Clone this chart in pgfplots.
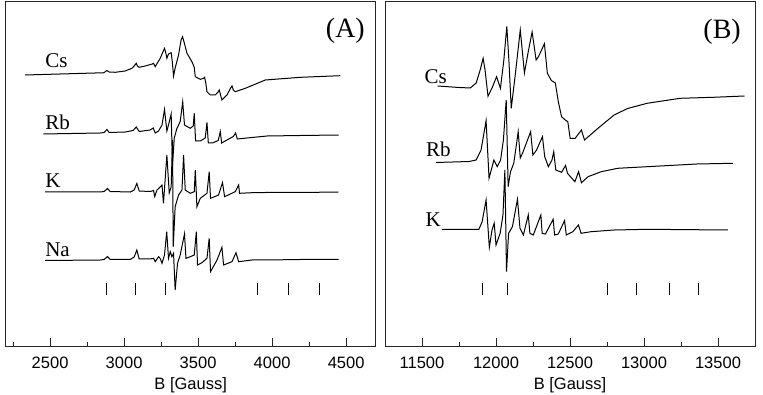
\documentclass[border=0pt]{standalone}
\usepackage{fontspec}
\setmainfont{Liberation Serif}
\setsansfont{Liberation Sans}
\usepackage{pgfplots}
\pgfplotsset{compat=1.18}

% y values are read top-down (0 = top of picture), so the axis runs reversed
\pgfplotsset{
  eprpanel/.style={
    scale only axis, width=370pt, height=344pt,
    y dir=reverse, ymin=2, ymax=346, ytick=\empty,
    axis line style={line width=1pt, black!85},
    tick align=inside, xtick pos=bottom,
    major tick length=8pt, minor tick length=4pt,
    tick style={black!85, line width=0.8pt},
    scaled x ticks=false,
    xticklabel style={font=\sffamily\fontsize{16.5}{19}\selectfont, yshift=-7pt},
    /pgf/number format/assume math mode=true,
    /pgf/number format/1000 sep={},
    xlabel={B [Gauss]},
    xlabel style={font=\sffamily\fontsize{16.5}{19}\selectfont, yshift=-2pt},
    clip=false,
  },
  trace/.style={black, line width=1pt},
  stick/.style={black, line width=0.7pt, unbounded coords=jump},
}
\tikzset{
  spec/.style={anchor=base west, inner sep=0pt, font=\fontsize{21}{24}\selectfont},
  tag/.style={anchor=center, inner sep=0pt, font=\fontsize{28}{32}\selectfont},
}

\begin{document}
\begin{tikzpicture}
\useasboundingbox (-5.7pt,-49pt) rectangle (757.3pt,346pt);

% ---------------- panel A (X band) ----------------
\begin{axis}[eprpanel, at={(0pt,0pt)},
  xmin=2200, xmax=4700,
  xtick={2500,3000,3500,4000,4500},
  minor xtick={2250,2750,3250,3750,4250},
]
% Cs
\addplot[trace] coordinates {
 (2331,75) (2804,73) (2858,73) (2870,72) (2884,70.5) (2899,72) (2940,72.3)
 (3007,71) (3053,68.3) (3068,66) (3082,63.3) (3092,66.5) (3102,67.3) (3143,66)
 (3190,64) (3199,63.3) (3210,66.7) (3244,58.3) (3265,51) (3273,48.3) (3282,53)
 (3289,58.3) (3300,54) (3318,52.7) (3326,62) (3334,76) (3345,68) (3368,55)
 (3385,40) (3395,36.7) (3405,42) (3425,53.3) (3458,61.7) (3474,67.3) (3481,76.7)
 (3515,79.3) (3535,78.5) (3544,77.3) (3552,83) (3560,91.7) (3582,95) (3616,95)
 (3635,92) (3643,90) (3650,94) (3661,100) (3695,95) (3720,88) (3729,86)
 (3738,90) (3751,91.7) (3819,88.3) (3954,80) (4191,77.3) (4462,75.7)
};
% Rb
\addplot[trace] coordinates {
 (2455,134) (2838,133) (2865,132.5) (2884,129.5) (2899,132.5) (3007,132)
 (3061,130.5) (3082,127) (3102,131.5) (3176,130) (3197,128) (3210,133)
 (3233,131) (3256,125) (3273,109.5) (3289,131) (3305,122) (3318,114)
 (3327,165) (3339,138) (3357,128.3) (3379,121.7) (3396,101.7) (3408,125)
 (3447,128.3) (3467,126) (3474,113.3) (3483,141) (3515,141) (3548,138)
 (3560,122.5) (3569,143) (3596,143) (3636,140.5) (3650,131.5) (3659,143)
 (3695,140) (3738,136.5) (3753,133) (3765,139) (3830,138) (3966,136)
 (4191,135.5) (4450,135)
};
% K
\addplot[trace] coordinates {
 (2466,192) (2838,192) (2865,191.5) (2888,188.5) (2906,191.5) (3041,192)
 (3068,190) (3086,183.5) (3102,191) (3176,191.5) (3199,190.5) (3207,196.5)
 (3222,190) (3244,187) (3256,185) (3266,203.3) (3289,155) (3305,193)
 (3318,187) (3327,140) (3332,246.7) (3345,206.7) (3368,195) (3391,190)
 (3402,155) (3413,190) (3447,193.3) (3474,191.7) (3481,170) (3492,206.7)
 (3515,198.3) (3560,193.3) (3575,171.7) (3584,198.3) (3638,195) (3665,182.7)
 (3679,196.7) (3751,191.7) (3774,185) (3780,193.3) (3864,192.7) (3954,192.5)
 (4191,192.5) (4448,192)
};
% Na
\addplot[trace] coordinates {
 (2466,260.5) (2838,260) (2865,259.5) (2888,256.5) (2906,259.5) (3041,259.5)
 (3068,257) (3086,250) (3102,259) (3176,259) (3199,258.3) (3210,261.7)
 (3233,256.7) (3244,258.5) (3256,263.3) (3273,255) (3288,231.7) (3300,258.3)
 (3312,251.7) (3323,256.7) (3334,253.3) (3345,290) (3361,263.3) (3379,255)
 (3408,234) (3418,258.3) (3447,256.7) (3474,255) (3488,231.7) (3496,265)
 (3526,262.7) (3560,258.3) (3575,238.3) (3584,271.7) (3628,260) (3661,247.3)
 (3672,265) (3729,261.7) (3756,252.7) (3774,261.7) (3864,260) (3954,260)
 (4191,259.5) (4450,259.5)
};
% line positions
\addplot[stick] coordinates {
 (2880,283) (2880,295) (2880,nan) (3075,283) (3075,295) (3075,nan)
 (3280,283) (3280,295) (3280,nan) (3900,283) (3900,295) (3900,nan)
 (4110,283) (4110,295) (4110,nan) (4320,283) (4320,295)
};
\node[spec] at (axis cs:2466,68) {Cs};
\node[spec] at (axis cs:2466,130) {Rb};
\node[spec] at (axis cs:2466,188) {K};
\node[spec] at (axis cs:2466,256.5) {Na};
\node[tag] at (axis cs:4495,31) {(A)};
\end{axis}

% ---------------- panel B (Q band) ----------------
\begin{axis}[eprpanel, at={(379.3pt,0pt)},
  xmin=11250, xmax=13750,
  xtick={11500,12000,12500,13000,13500},
  minor xtick={11750,12250,12750,13250},
]
% Cs
\addplot[trace] coordinates {
 (11605,86) (11752,87.5) (11826,88) (11866,83) (11893,70) (11913,58.3)
 (11926,70) (11946,96.3) (11973,88) (12004,76.7) (12030,88.3) (12053,60)
 (12073,26.3) (12087,60) (12103,108.3) (12130,75) (12164,30) (12192,73)
 (12220,50) (12244,32) (12271,60) (12287,56.7) (12327,43.7) (12347,73.3)
 (12374,80.5) (12401,83) (12421,101.7) (12443,116.7) (12468,120) (12485,121.7)
 (12501,138.3) (12535,138.3) (12577,130) (12598,140) (12689,128.3) (12798,115)
 (12889,108.5) (13021,103.3) (13244,98.3) (13467,97.3) (13679,96)
};
% Rb
\addplot[trace] coordinates {
 (11594,162.5) (11819,161.5) (11866,160) (11899,150) (11933,120.7) (11953,178.3)
 (11986,160) (12008,166.7) (12031,160) (12050,140) (12069,100) (12082,186.7)
 (12098,171.7) (12120,163.3) (12150,131.7) (12164,158) (12180,153) (12234,131.7)
 (12249,155) (12274,150) (12314,136.7) (12329,156.7) (12354,166.7) (12378,160)
 (12390,151.7) (12404,170) (12443,172.3) (12470,165.5) (12483,173.3) (12533,181.7)
 (12558,171.7) (12577,182.7) (12622,176.7) (12711,171.7) (12822,168.3)
 (13021,166.7) (13357,164) (13600,163.3)
};
% K
\addplot[trace] coordinates {
 (11634,229.3) (11884,229.3) (11906,222) (11933,200) (11955,247.3) (11973,230)
 (11988,223.3) (12000,245) (12028,233.3) (12047,215) (12060,170) (12071,271.7)
 (12085,233.3) (12111,226.7) (12145,199.3) (12162,228.3) (12185,235) (12218,215)
 (12229,233.3) (12252,235) (12303,215) (12312,233.3) (12334,234) (12386,219.3)
 (12396,235) (12421,234) (12463,220.7) (12475,235) (12519,231.7) (12557,225)
 (12575,233.3) (12642,231.7) (12798,230) (13021,229.3) (13567,230)
};
% line positions
\addplot[stick] coordinates {
 (11905,283) (11905,295) (11905,nan) (12075,283) (12075,295) (12075,nan)
 (12750,283) (12750,295) (12750,nan) (12950,283) (12950,295) (12950,nan)
 (13170,283) (13170,295) (13170,nan) (13370,283) (13370,295)
};
\node[spec] at (axis cs:11516,83.3) {Cs};
\node[spec] at (axis cs:11527,156.7) {Rb};
\node[spec] at (axis cs:11523,226.7) {K};
\node[tag] at (axis cs:13528,32) {(B)};
\end{axis}
\end{tikzpicture}
\end{document}
